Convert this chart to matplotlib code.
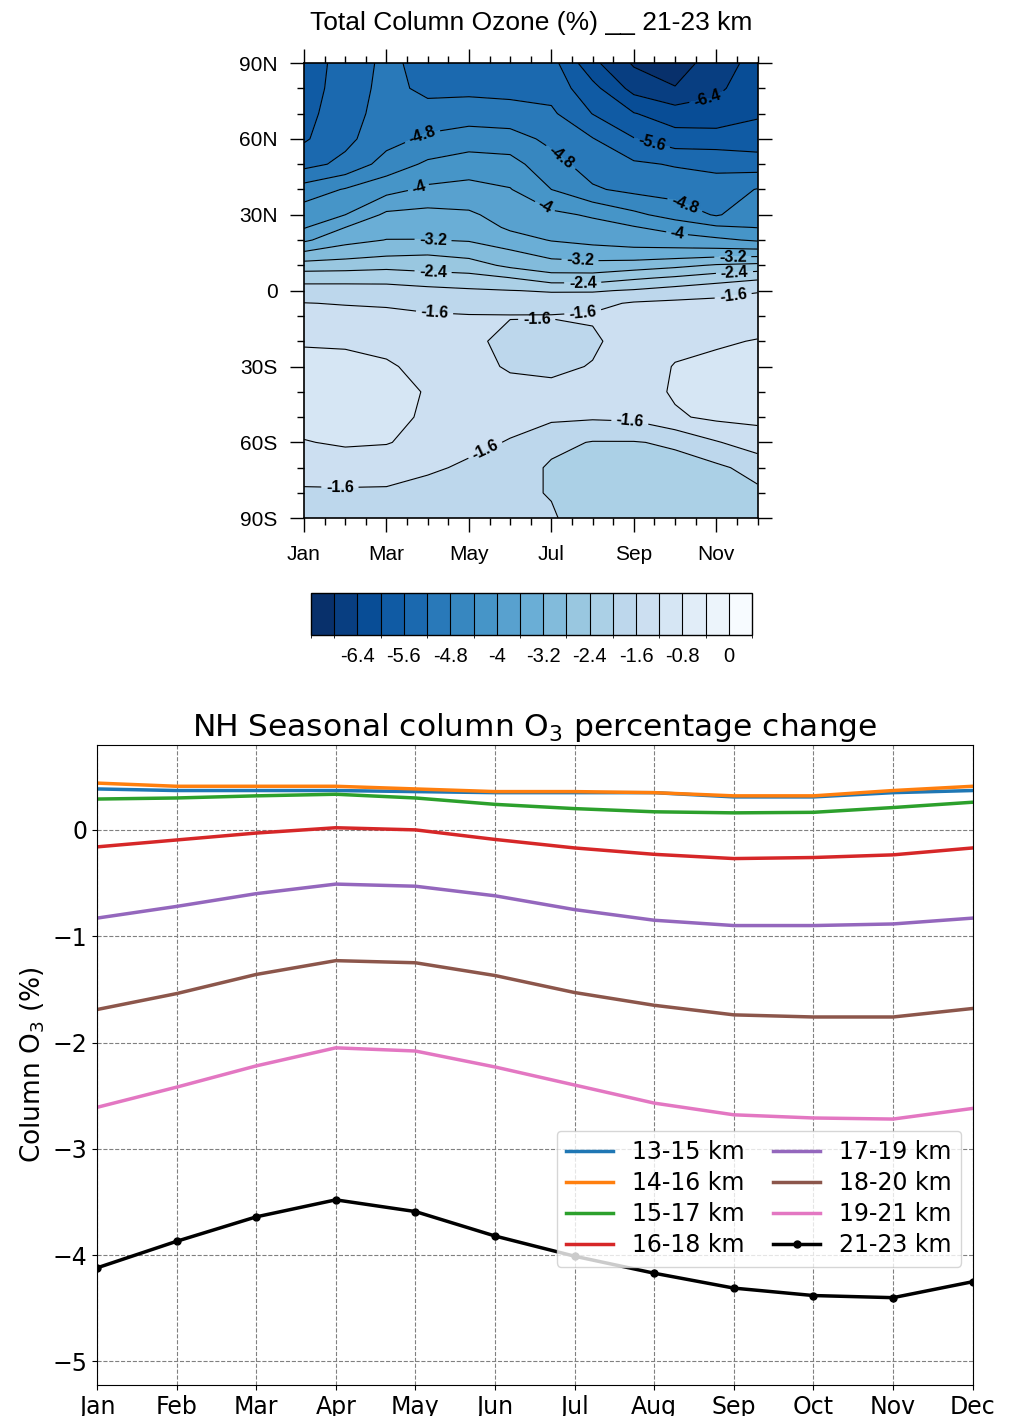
import numpy as np
import matplotlib
matplotlib.use("Agg")
import matplotlib.pyplot as plt
from matplotlib.colors import BoundaryNorm, ListedColormap
from matplotlib.ticker import MultipleLocator

# ---- top panel data: total column ozone change (%) from 21-23 km, month x latitude
months = [1, 2, 3, 4, 5, 6, 7, 8, 9, 10, 11, 12]
lats = [90, 80, 70, 60, 50, 40, 30, 25, 20, 15, 10, 5, 0, -5, -10, -20, -30, -40, -50, -60, -70, -80, -90]
#          Jan    Feb    Mar    Apr    May    Jun    Jul    Aug    Sep    Oct    Nov    Dec
toz = [
    [-5.80, -5.45, -5.10, -5.35, -5.38, -5.40, -5.45, -6.30, -6.85, -7.00, -6.60, -6.25],  # 90
    [-5.78, -5.42, -5.07, -5.30, -5.30, -5.32, -5.35, -5.87, -6.54, -6.78, -6.48, -6.15],  # 80
    [-5.72, -5.38, -5.02, -5.05, -5.00, -5.05, -5.13, -5.61, -5.98, -6.21, -6.25, -6.05],  # 70
    [-5.65, -5.30, -4.95, -4.72, -4.60, -4.63, -4.90, -5.18, -5.58, -5.83, -5.82, -5.82],  # 60
    [-5.33, -5.10, -4.63, -4.33, -4.21, -4.26, -4.65, -4.98, -5.14, -5.23, -5.30, -5.40],  # 50
    [-4.62, -4.37, -4.14, -3.92, -3.87, -3.98, -4.40, -4.75, -4.90, -4.97, -5.02, -4.78],  # 40
    [-4.18, -4.00, -3.52, -3.48, -3.54, -3.76, -3.91, -4.05, -4.31, -4.56, -4.84, -4.54],  # 30
    [-4.03, -3.60, -3.36, -3.34, -3.38, -3.66, -3.76, -3.86, -3.97, -4.16, -4.34, -4.41],  # 25
    [-3.67, -3.32, -3.19, -3.19, -3.23, -3.44, -3.62, -3.70, -3.76, -3.82, -3.92, -4.05],  # 20
    [-3.15, -3.00, -2.90, -2.85, -2.95, -3.13, -3.35, -3.44, -3.48, -3.46, -3.43, -3.42],  # 15
    [-2.63, -2.60, -2.53, -2.57, -2.62, -2.89, -3.04, -3.06, -3.01, -2.90, -2.76, -2.70],  # 10
    [-2.14, -2.13, -2.13, -2.22, -2.27, -2.39, -2.63, -2.63, -2.46, -2.34, -2.19, -2.07],  # 5
    [-1.84, -1.85, -1.86, -1.90, -1.95, -1.99, -2.03, -2.04, -1.96, -1.84, -1.74, -1.62],  # 0
    [-1.59, -1.62, -1.64, -1.68, -1.76, -1.83, -1.80, -1.70, -1.56, -1.52, -1.50, -1.50],  # -5
    [-1.47, -1.49, -1.52, -1.57, -1.58, -1.58, -1.58, -1.56, -1.48, -1.43, -1.40, -1.40],  # -10
    [-1.23, -1.27, -1.32, -1.45, -1.50, -1.72, -1.76, -1.66, -1.42, -1.30, -1.25, -1.18],  # -20
    [-1.10, -1.05, -1.15, -1.32, -1.45, -1.65, -1.68, -1.58, -1.40, -1.18, -1.10, -1.08],  # -30
    [-1.00, -1.00, -1.10, -1.22, -1.40, -1.45, -1.50, -1.45, -1.40, -1.15, -1.05, -1.02],  # -40
    [-1.05, -1.00, -1.10, -1.25, -1.42, -1.50, -1.52, -1.55, -1.52, -1.25, -1.12, -1.10],  # -50
    [-1.22, -1.15, -1.18, -1.32, -1.52, -1.62, -1.90, -2.02, -2.02, -1.95, -1.63, -1.40],  # -60
    [-1.45, -1.42, -1.42, -1.55, -1.65, -1.80, -2.05, -2.12, -2.15, -2.12, -2.08, -1.85],  # -70
    [-1.65, -1.65, -1.66, -1.72, -1.80, -1.92, -2.02, -2.18, -2.20, -2.18, -2.15, -2.08],  # -80
    [-1.75, -1.75, -1.78, -1.82, -1.88, -1.95, -1.96, -2.20, -2.22, -2.20, -2.18, -2.15],  # -90
]
top_title = "Total Column Ozone (%) __ 21-23 km"
month_ticks = [1, 3, 5, 7, 9, 11]
month_ticklabels = ["Jan", "Mar", "May", "Jul", "Sep", "Nov"]
lat_ticks = [-90, -60, -30, 0, 30, 60, 90]
lat_ticklabels = ["90S", "60S", "30S", "0", "30N", "60N", "90N"]
cbar_ticks = [-6.4, -5.6, -4.8, -4, -3.2, -2.4, -1.6, -0.8, 0]

# ---- bottom panel data: NH seasonal column O3 change (%)
mon_names = ["Jan", "Feb", "Mar", "Apr", "May", "Jun", "Jul", "Aug", "Sep", "Oct", "Nov", "Dec"]
layers = ["13-15 km", "14-16 km", "15-17 km", "16-18 km", "17-19 km", "18-20 km", "19-21 km", "21-23 km"]
o3_13_15 = [0.385, 0.37, 0.37, 0.37, 0.36, 0.35, 0.35, 0.35, 0.31, 0.31, 0.35, 0.37]
o3_14_16 = [0.44, 0.41, 0.41, 0.41, 0.385, 0.36, 0.36, 0.35, 0.32, 0.32, 0.37, 0.41]
o3_15_17 = [0.29, 0.30, 0.32, 0.335, 0.30, 0.24, 0.20, 0.17, 0.16, 0.165, 0.21, 0.26]
o3_16_18 = [-0.16, -0.095, -0.03, 0.02, 0.0, -0.09, -0.17, -0.23, -0.27, -0.26, -0.235, -0.17]
o3_17_19 = [-0.83, -0.72, -0.60, -0.51, -0.53, -0.62, -0.75, -0.85, -0.90, -0.90, -0.885, -0.83]
o3_18_20 = [-1.69, -1.54, -1.36, -1.23, -1.25, -1.37, -1.53, -1.65, -1.74, -1.76, -1.76, -1.68]
o3_19_21 = [-2.61, -2.42, -2.22, -2.05, -2.08, -2.23, -2.40, -2.57, -2.68, -2.71, -2.72, -2.62]
o3_21_23 = [-4.12, -3.87, -3.64, -3.48, -3.59, -3.82, -4.01, -4.17, -4.31, -4.38, -4.40, -4.25]
series = [o3_13_15, o3_14_16, o3_15_17, o3_16_18, o3_17_19, o3_18_20, o3_19_21, o3_21_23]
colors = ["tab:blue", "tab:orange", "tab:green", "tab:red", "tab:purple", "tab:brown", "tab:pink", "black"]

fig = plt.figure(figsize=(10.10, 14.16), dpi=100)

# ================= top panel =================
helv = "Liberation Sans"
ax1 = fig.add_axes([0.301, 0.634, 0.449, 0.3215])
levels = np.round(np.arange(-7.2, 0.41, 0.4), 2)
cmap = ListedColormap(plt.get_cmap("Blues")(np.linspace(1.0, 0.0, len(levels) - 1)))
norm = BoundaryNorm(levels, cmap.N)
Z = np.array(toz)
cf = ax1.contourf(months, lats, Z, levels=levels, cmap=cmap, norm=norm)

# every 0.8 gets a label, the lines in between do not
lab_lev = levels[(np.round(levels / 0.8, 3) % 1) == 0]
lab_lev = lab_lev[(lab_lev >= -6.4) & (lab_lev <= -1.6)]
other_lev = np.array([l for l in levels if l not in lab_lev])
ax1.contour(months, lats, Z, levels=other_lev, colors="k", linewidths=0.8,
            linestyles="solid")
cs = ax1.contour(months, lats, Z, levels=lab_lev, colors="k", linewidths=0.8,
                 linestyles="solid")

# label spots (month, lat) close to where the original puts them
label_pos = [(3.88, 60.9), (3.76, 41.5), (4.13, 20.2), (4.13, 7.1), (4.17, -7.5),
             (7.28, 53.8), (6.84, 33.2), (7.69, 10.7), (7.76, 3.2), (7.76, -7.5),
             (6.65, -14.6), (9.43, 57.8), (10.79, 75.6), (10.16, 30.9), (10.04, 21.4),
             (11.4, 13.4), (11.44, 7.9), (11.4, -0.8), (1.87, -78.3), (5.39, -62.9),
             (8.9, -54.6)]
lbls = ax1.clabel(cs, manual=label_pos, inline=True, fmt="%g",
                  fontsize=11.5, inline_spacing=3)
for t in lbls:
    t.set_fontweight("bold")
    t.set_family(helv)

ax1.set_xlim(1, 12)
ax1.set_ylim(-90, 90)
ax1.set_xticks(month_ticks)
ax1.set_xticklabels(month_ticklabels, family=helv, fontsize=15)
ax1.set_yticks(lat_ticks)
ax1.set_yticklabels(lat_ticklabels, family=helv, fontsize=15)
ax1.xaxis.set_minor_locator(MultipleLocator(0.5))
ax1.yaxis.set_minor_locator(MultipleLocator(10))
ax1.tick_params(which="both", direction="out", top=True, right=True, width=1.0)
ax1.tick_params(which="major", length=10, pad=9)
ax1.tick_params(which="minor", length=5)
for s in ax1.spines.values():
    s.set_linewidth(1.2)
ax1.set_title(top_title, family=helv, fontsize=19, pad=24)

cax = fig.add_axes([0.308, 0.5516, 0.4366, 0.0297])
cb = fig.colorbar(cf, cax=cax, orientation="horizontal", drawedges=True)
cb.set_ticks(cbar_ticks, labels=["%g" % v for v in cbar_ticks])
cb.ax.tick_params(length=0, pad=9)
for t in cb.ax.get_xticklabels():
    t.set_family(helv)
    t.set_fontsize(14.5)
cb.outline.set_linewidth(1.0)
cb.dividers.set_linewidth(0.8)

# ================= bottom panel =================
ax2 = fig.add_axes([0.096, 0.022, 0.867, 0.452])
x = np.arange(len(mon_names))
for vals, lab, c in zip(series, layers, colors):
    if c == "black":
        ax2.plot(x, vals, color=c, lw=2.5, marker="o", ms=5, label=lab)
    else:
        ax2.plot(x, vals, color=c, lw=2.5, label=lab)
ax2.set_xlim(0, 11)
ax2.set_ylim(-5.22, 0.8)
ax2.set_xticks(x)
ax2.set_xticklabels(mon_names)
ax2.set_yticks([-5, -4, -3, -2, -1, 0])
ax2.tick_params(labelsize=17)
ax2.grid(True, linestyle="--", color="gray", linewidth=0.8)
ax2.set_ylabel("Column O$_3$ (%)", fontsize=19)
ax2.set_title("NH Seasonal column O$_3$ percentage change", fontsize=22.5)
ax2.legend(ncol=2, fontsize=17, loc="upper right", bbox_to_anchor=(0.987, 0.397),
           borderaxespad=0, columnspacing=1.2, labelspacing=0.3)

fig.savefig("out.png", dpi=100)
